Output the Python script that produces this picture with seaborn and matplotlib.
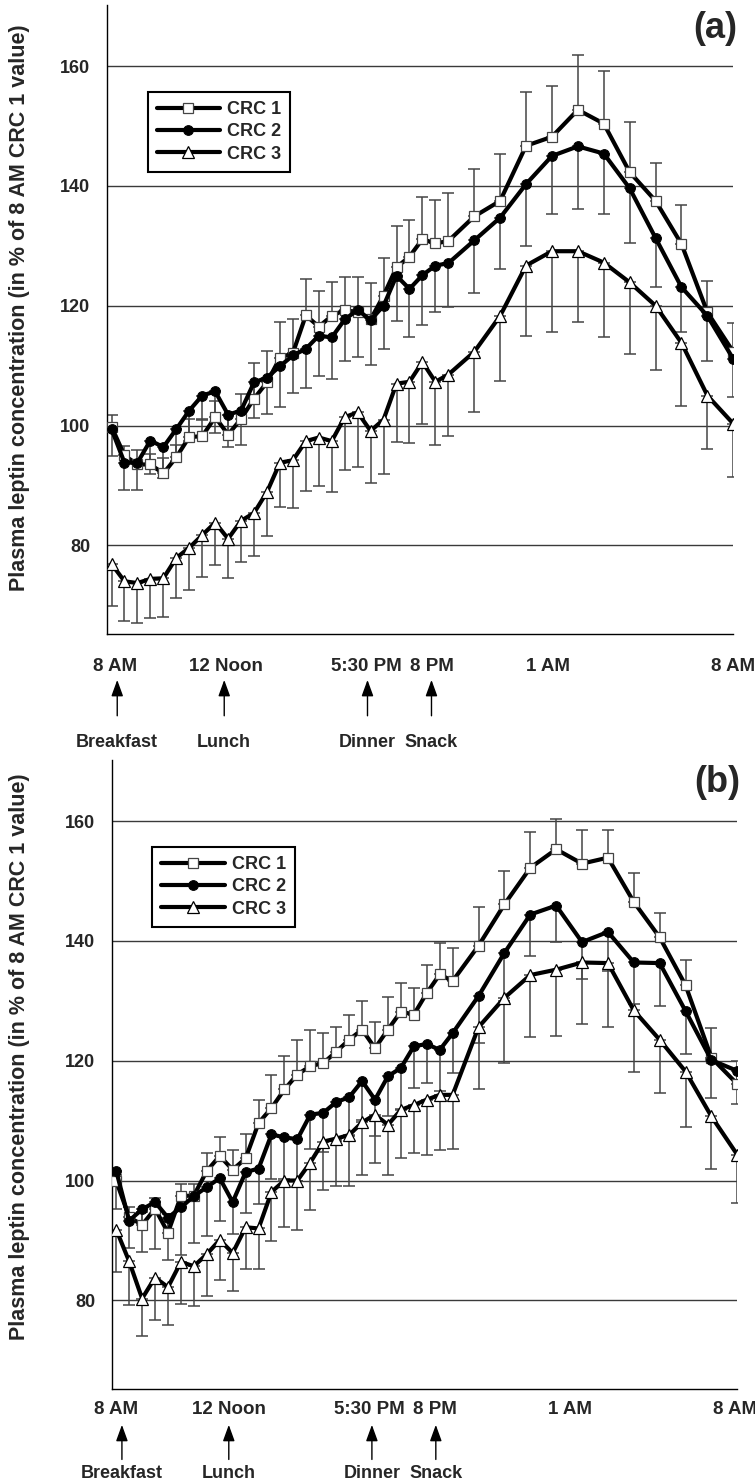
import matplotlib
matplotlib.use("Agg")
import matplotlib.pyplot as plt
import seaborn as sns

# sampling times, hours after 8 AM
hours = [0, 0.5, 1, 1.5, 2, 2.5, 3, 3.5, 4, 4.5, 5, 5.5, 6, 6.5, 7, 7.5, 8, 8.5, 9,
         9.5, 10, 10.5, 11, 11.5, 12, 12.5, 13, 14, 15, 16, 17, 18, 19, 20, 21, 22, 23, 24]

time_labels = ["8 AM", "12 Noon", "5:30 PM", "8 PM", "1 AM", "8 AM"]
a_label_hours = [0.15, 4.4, 9.85, 12.35, 16.85, 24.0]
b_label_hours = [0.0, 4.35, 9.8, 12.3, 17.55, 23.9]
meals = ["Breakfast", "Lunch", "Dinner", "Snack"]
meal_hours = [0.22, 4.35, 9.88, 12.35]

# panel (a)
a_crc1 = [99.8, 95.0, 93.5, 93.5, 92.0, 94.7, 98.1, 98.2, 101.4, 98.5, 101.1, 104.5, 107.2,
          111.3, 112.1, 118.4, 116.5, 118.3, 119.3, 118.9, 117.7, 121.7, 126.4, 128.2, 131.1,
          130.4, 130.8, 134.9, 137.5, 146.7, 148.2, 152.7, 150.4, 142.3, 137.5, 130.3, 118.9, 112.3]
a_crc1_err = [2.0, 1.5, 2.4, 1.8, 2.5, 2.1, 3.0, 2.9, 2.7, 3.3, 4.2, 6.0, 5.3, 5.9, 5.7, 6.1,
              6.0, 5.7, 5.5, 5.9, 6.1, 6.3, 6.9, 6.1, 7.0, 7.2, 8.0, 8.0, 7.8, 8.9, 8.5, 9.1,
              8.8, 8.4, 6.4, 6.5, 5.3, 4.8]
a_crc2 = [99.4, 93.8, 93.8, 97.5, 96.4, 99.4, 102.5, 105.0, 105.7, 101.8, 102.5, 107.2, 108.0,
          109.9, 111.7, 112.8, 115.0, 114.7, 117.7, 119.3, 117.6, 120.0, 125.0, 122.8, 125.1,
          126.7, 127.1, 130.9, 134.7, 140.3, 145.0, 146.6, 145.4, 139.6, 131.3, 123.1, 118.3, 111.1]
a_crc2_err = [4.5, 4.5, 4.6, 5.6, 5.1, 5.4, 5.0, 4.0, 6.9, 5.4, 5.8, 6.0, 6.1, 6.8, 6.2, 6.5,
              6.7, 7.0, 7.0, 7.8, 7.5, 7.2, 7.5, 8.1, 8.4, 7.8, 7.3, 8.7, 8.6, 10.3, 9.7, 10.4,
              10.1, 9.2, 8.2, 7.5, 7.5, 6.4]
a_crc3 = [76.9, 74.0, 73.7, 74.4, 74.5, 77.9, 79.6, 81.7, 83.8, 81.1, 84.1, 85.4, 88.9, 93.8,
          94.2, 97.4, 98.0, 97.4, 101.4, 102.2, 99.1, 101.0, 107.0, 107.3, 110.6, 107.3, 108.5,
          112.3, 118.3, 126.7, 129.1, 129.1, 127.2, 123.9, 120.0, 113.8, 105.0, 100.3]
a_crc3_err = [7.1, 6.6, 6.7, 6.5, 6.5, 6.7, 7.0, 7.0, 7.0, 6.6, 6.9, 7.1, 7.4, 7.4, 8.0, 8.4,
              8.1, 8.5, 8.8, 9.2, 8.7, 9.1, 9.8, 10.2, 10.3, 10.6, 10.2, 10.0, 10.8, 11.7, 13.5,
              11.9, 12.5, 12.0, 10.7, 10.5, 8.9, 8.9]

# panel (b)
b_crc1 = [99.9, 93.9, 92.6, 95.3, 91.3, 97.4, 97.5, 101.6, 104.1, 101.8, 103.7, 109.6, 112.1,
          115.2, 117.7, 119.1, 119.6, 121.5, 123.5, 125.2, 122.1, 125.2, 128.2, 127.7, 131.3,
          134.4, 133.3, 139.2, 146.1, 152.2, 155.3, 152.9, 153.9, 146.5, 140.6, 132.6, 120.5, 116.1]
b_crc1_err = [1.0, 1.6, 2.2, 1.8, 3.1, 2.0, 2.0, 3.0, 3.1, 3.3, 4.0, 3.9, 5.5, 5.6, 5.8, 6.1,
              5.1, 4.2, 4.2, 4.7, 4.4, 5.4, 4.7, 4.4, 4.6, 5.3, 5.6, 6.4, 5.5, 6.0, 5.1, 5.6,
              4.6, 4.9, 4.0, 4.2, 4.9, 3.8]
b_crc2 = [101.6, 93.3, 95.2, 96.4, 93.8, 95.5, 97.4, 98.9, 100.4, 96.4, 101.4, 102.0, 107.7,
          107.2, 106.9, 111.0, 111.3, 113.1, 113.9, 116.6, 113.5, 117.4, 118.8, 122.4, 122.8,
          121.8, 124.6, 130.8, 138.0, 144.4, 145.9, 139.8, 141.5, 136.4, 136.3, 128.3, 120.1, 118.3]
b_crc2_err = [6.4, 4.6, 7.2, 7.8, 7.0, 7.9, 7.8, 8.2, 7.1, 5.4, 6.9, 6.0, 7.5, 7.0, 7.0, 5.7,
              6.5, 6.5, 6.5, 6.5, 6.0, 6.7, 6.8, 7.0, 6.6, 6.8, 6.7, 7.8, 8.0, 7.0, 6.0, 6.1,
              6.5, 7.0, 7.1, 7.1, 6.4, 5.5]
b_crc3 = [91.8, 86.5, 80.3, 83.8, 82.2, 86.4, 85.7, 87.7, 90.1, 87.9, 92.2, 92.0, 98.1, 100.0,
          100.0, 103.0, 106.5, 107.0, 107.6, 109.7, 111.0, 109.3, 111.8, 112.6, 113.5, 114.3,
          114.3, 125.6, 130.5, 134.3, 135.2, 136.4, 136.3, 128.4, 123.5, 118.2, 110.7, 104.3]
b_crc3_err = [7.1, 7.2, 6.3, 7.0, 6.3, 7.0, 6.7, 6.9, 6.7, 6.4, 6.9, 6.7, 8.2, 7.8, 8.2, 8.0,
              8.0, 7.9, 8.5, 8.7, 8.0, 8.4, 8.1, 8.0, 9.3, 9.2, 9.1, 10.4, 10.9, 10.3, 11.1,
              10.3, 10.6, 10.2, 8.9, 9.2, 8.7, 8.1]

sns.set_style("white")
plt.rcParams['font.family'] = ['Liberation Sans', 'DejaVu Sans']
plt.rcParams['font.weight'] = 'bold'

W, H = 755, 1481
fig = plt.figure(figsize=(W / 100, H / 100), dpi=100)


def draw_panel(ax, s1, e1, s2, e2, s3, e3, tick_hours, tick_pad, arrow_top, arrow_tail, meal_y):
    zeros = [0] * len(hours)
    ax.set_xlim(-0.175, 24.0)
    ax.set_ylim(65.2, 170.2)
    ax.set_yticks([80, 100, 120, 140, 160])
    ax.yaxis.grid(True, color='#3a3a3a', linewidth=1.0)
    ax.xaxis.grid(False)
    ax.set_axisbelow(True)

    # one-sided error bars: CRC 1 up, CRC 2 and 3 down
    ebar = dict(fmt='none', ecolor='#454545', elinewidth=1.1, capsize=4, capthick=1.1, zorder=2)
    ax.errorbar(hours, s1, yerr=[zeros, e1], **ebar)
    ax.errorbar(hours, s2, yerr=[e2, zeros], **ebar)
    ax.errorbar(hours, s3, yerr=[e3, zeros], **ebar)

    sns.lineplot(x=hours, y=s1, ax=ax, color='black', linewidth=3, marker='s', markersize=6.5,
                 markerfacecolor='white', markeredgecolor='#444444', markeredgewidth=0.9,
                 label='CRC 1', errorbar=None, zorder=3)
    sns.lineplot(x=hours, y=s2, ax=ax, color='black', linewidth=3, marker='o', markersize=7,
                 markerfacecolor='black', markeredgecolor='black', label='CRC 2',
                 errorbar=None, zorder=3)
    sns.lineplot(x=hours, y=s3, ax=ax, color='black', linewidth=3, marker='^', markersize=8,
                 markerfacecolor='white', markeredgecolor='black', markeredgewidth=0.9,
                 label='CRC 3', errorbar=None, zorder=3)

    for side in ['top', 'right']:
        ax.spines[side].set_visible(False)
    for side in ['left', 'bottom']:
        ax.spines[side].set_color('black')
        ax.spines[side].set_linewidth(1.0)

    ax.set_xticks(tick_hours)
    ax.set_xticklabels(time_labels)
    ax.tick_params(axis='both', length=0, labelsize=13)
    ax.tick_params(axis='x', pad=tick_pad, labelsize=13.5)
    ax.tick_params(axis='y', pad=12)
    ax.set_xlabel('')
    ax.set_ylabel('')

    leg = ax.legend(loc='upper left', bbox_to_anchor=(0.065, 0.862), borderaxespad=0,
                    frameon=True, fancybox=False, edgecolor='black', framealpha=1,
                    prop={'size': 13, 'weight': 'bold'}, handlelength=3.5, handletextpad=0.4,
                    labelspacing=0.3, borderpad=0.5)
    leg.get_frame().set_linewidth(1.5)

    # meal arrows under the axis
    tr = ax.get_xaxis_transform()
    for name, h in zip(meals, meal_hours):
        ax.annotate('', xy=(h, arrow_top), xytext=(h, arrow_tail), xycoords=tr, textcoords=tr,
                    annotation_clip=False,
                    arrowprops=dict(arrowstyle='-|>,head_length=0.55,head_width=0.2',
                                    mutation_scale=18, color='black', lw=1, shrinkA=0, shrinkB=0))
        ax.text(h, meal_y, name, transform=tr, ha='center', va='center', fontsize=13,
                fontweight='bold')


ylabel = "Plasma leptin concentration (in % of 8 AM CRC 1 value)"

ax_a = fig.add_axes([107 / W, 1 - 634 / H, 626.3 / W, 629 / H])
draw_panel(ax_a, a_crc1, a_crc1_err, a_crc2, a_crc2_err, a_crc3, a_crc3_err,
           a_label_hours, 17, -0.073, -0.13, -0.172)
fig.text(715 / W, 1 - 28 / H, '(a)', ha='center', va='center', fontsize=26, fontweight='bold')
fig.text(20 / W, 1 - 308 / H, ylabel, rotation=90, ha='center', va='center', fontsize=15.5,
         fontweight='bold')

ax_b = fig.add_axes([111.7 / W, 1 - 1389 / H, 625.6 / W, 629 / H])
draw_panel(ax_b, b_crc1, b_crc1_err, b_crc2, b_crc2_err, b_crc3, b_crc3_err,
           b_label_hours, 9, -0.057, -0.112, -0.134)
fig.text(717 / W, 1 - 782 / H, '(b)', ha='center', va='center', fontsize=26, fontweight='bold')
fig.text(20 / W, 1 - 1057 / H, ylabel, rotation=90, ha='center', va='center', fontsize=15.5,
         fontweight='bold')

fig.savefig("out.png", dpi=100)
